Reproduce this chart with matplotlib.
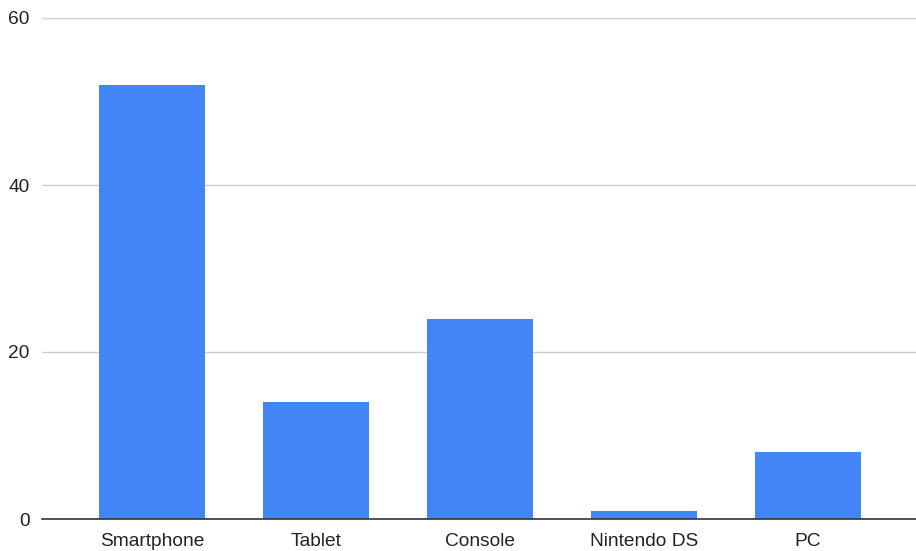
import matplotlib.pyplot as plt

categorias = ["Smartphone", "Tablet", "Console", "Nintendo DS", "PC"]
valores = [52, 14, 24, 1, 8]
y_ticks = [0, 20, 40, 60]

plt.rcParams['font.family'] = ['Liberation Sans', 'DejaVu Sans']

fig = plt.figure(figsize=(9.16, 5.51), dpi=100)
ax = fig.add_axes([42 / 916, 32 / 551, 874 / 916, 501 / 551])

x = range(len(categorias))
ax.bar(x, valores, width=0.645, color="#4285F4", zorder=3)

ax.set_xlim(-0.67, 4.66)
ax.set_ylim(0, 60)
ax.set_yticks(y_ticks)
ax.set_xticks(list(x))
ax.set_xticklabels(categorias)

# Grade horizontal estilo planilha
ax.grid(axis="y", color="#cccccc", linewidth=1, zorder=0)
for lado in ["top", "right", "left"]:
    ax.spines[lado].set_visible(False)
ax.spines["bottom"].set_color("#333333")
ax.spines["bottom"].set_linewidth(1.2)
ax.spines["bottom"].set_zorder(4)

ax.tick_params(axis="both", length=0, labelsize=13.8, colors="#222222")
ax.tick_params(axis="y", pad=9)
ax.tick_params(axis="x", pad=10)

plt.savefig("out.png", dpi=100)
plt.close()
